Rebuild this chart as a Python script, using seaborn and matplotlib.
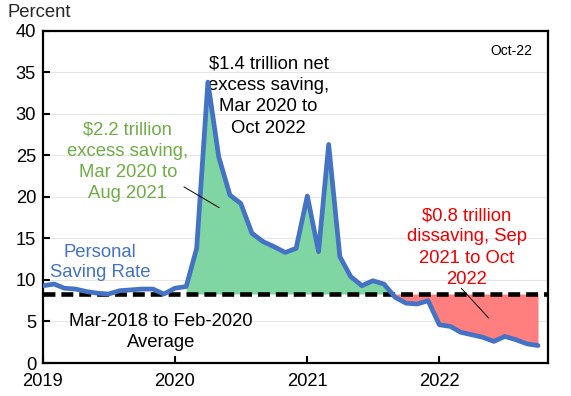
import numpy as np
import pandas as pd
import matplotlib
matplotlib.use("Agg")
import matplotlib.pyplot as plt
import matplotlib.dates as mdates
import seaborn as sns

# ---- data ----
start_month = "2019-01-01"
saving_rate = [9.3, 9.5, 9.0, 8.9, 8.6, 8.4, 8.3, 8.7, 8.8, 8.9, 8.9, 8.3,   # 2019
               9.0, 9.2, 13.8, 33.8, 24.8, 20.2, 19.2, 15.6, 14.6, 14.0, 13.3, 13.8,  # 2020
               20.1, 13.4, 26.3, 12.8, 10.4, 9.3, 9.9, 9.5, 7.9, 7.2, 7.1, 7.5,  # 2021
               4.6, 4.4, 3.7, 3.4, 3.1, 2.6, 3.2, 2.8, 2.3, 2.1]  # 2022 (to Oct)
pre_pandemic_avg = 8.3
fill_start = "2020-02-01"
year_ticks = ["2019", "2020", "2021", "2022"]
y_ticks = [0, 5, 10, 15, 20, 25, 30, 35, 40]

dates = pd.date_range(start_month, periods=len(saving_rate), freq="MS")
df = pd.DataFrame({"date": dates, "rate": saving_rate})

sns.set_theme(style="white")
plt.rcParams["font.family"] = ["Liberation Sans", "DejaVu Sans"]

fig = plt.figure(figsize=(5.71, 3.96), dpi=100)
ax = fig.add_axes([0.0753, 0.0833, 0.8847, 0.8394])

# grid
for yv in y_ticks[1:-1]:
    ax.axhline(yv, color="#e6e6e6", lw=0.8, zorder=0)

# fills
sub = df[df["date"] >= pd.Timestamp(fill_start)]
xs = mdates.date2num(sub["date"])
ys = sub["rate"].to_numpy()
ax.fill_between(xs, ys, pre_pandemic_avg, where=ys >= pre_pandemic_avg,
                interpolate=True, color="#7fd6a3", lw=0, zorder=1)
ax.fill_between(xs, ys, pre_pandemic_avg, where=ys <= pre_pandemic_avg,
                interpolate=True, color="#ff7f7f", lw=0, zorder=1)

# average line
ax.axhline(pre_pandemic_avg, color="black", lw=3.3, dashes=(2.6, 1.3), zorder=3)

# main line
sns.lineplot(data=df, x="date", y="rate", ax=ax, color="#4472c4", lw=3.4, zorder=4)

ax.set_ylim(0, 40)
ax.set_xlim(pd.Timestamp("2019-01-01"), pd.Timestamp("2022-10-29"))
ax.set_yticks(y_ticks)
ax.set_xticks([pd.Timestamp(f"{y}-01-01") for y in year_ticks])
ax.set_xticklabels(year_ticks)
ax.set_xlabel("")
ax.set_ylabel("")
ax.tick_params(axis="both", direction="in", length=5, width=1.5, colors="black",
               labelsize=13.2, bottom=True, left=True)
ax.tick_params(axis="y", pad=5)
ax.tick_params(axis="x", pad=7)
for s in ax.spines.values():
    s.set_visible(True)
    s.set_color("black")
    s.set_linewidth(1.6)

def m(i):
    return mdates.date2num(pd.Timestamp("2019-01-01")) + i * 30.44

fs = 13.3
ls = 1.33
ax.text(m(5.2), 12.1, "Personal\nSaving Rate", color="#4472c4", fontsize=fs,
        ha="center", va="center", linespacing=1.25)
ax.text(m(10.7), 3.7, "Mar-2018 to Feb-2020\nAverage", color="black", fontsize=fs,
        ha="center", va="center", linespacing=ls)
ax.text(m(7.7), 24.2, "$2.2 trillion\nexcess saving,\nMar 2020 to\nAug 2021",
        color="#70ad47", fontsize=fs, ha="center", va="center", linespacing=ls)
ax.plot([m(12.8), m(16.0)], [21.2, 18.7], color="black", lw=0.7, zorder=5)
ax.text(m(20.5), 32.1, "$1.4 trillion net\nexcess saving,\nMar 2020 to\nOct 2022",
        color="black", fontsize=fs, ha="center", va="center", linespacing=ls)
ax.text(m(38.5), 13.9, "$0.8 trillion\ndissaving, Sep\n2021 to Oct\n2022",
        color="#ee0000", fontsize=fs, ha="center", va="center", linespacing=ls)
ax.plot([m(38.0), m(40.5)], [9.0, 5.4], color="black", lw=0.7, zorder=5)
ax.text(m(44.5), 37.6, "Oct-22", color="black", fontsize=10, ha="right", va="center")

fig.text(0.014, 0.968, "Percent", fontsize=fs, ha="left", va="center")

fig.savefig("out.png", dpi=100)
